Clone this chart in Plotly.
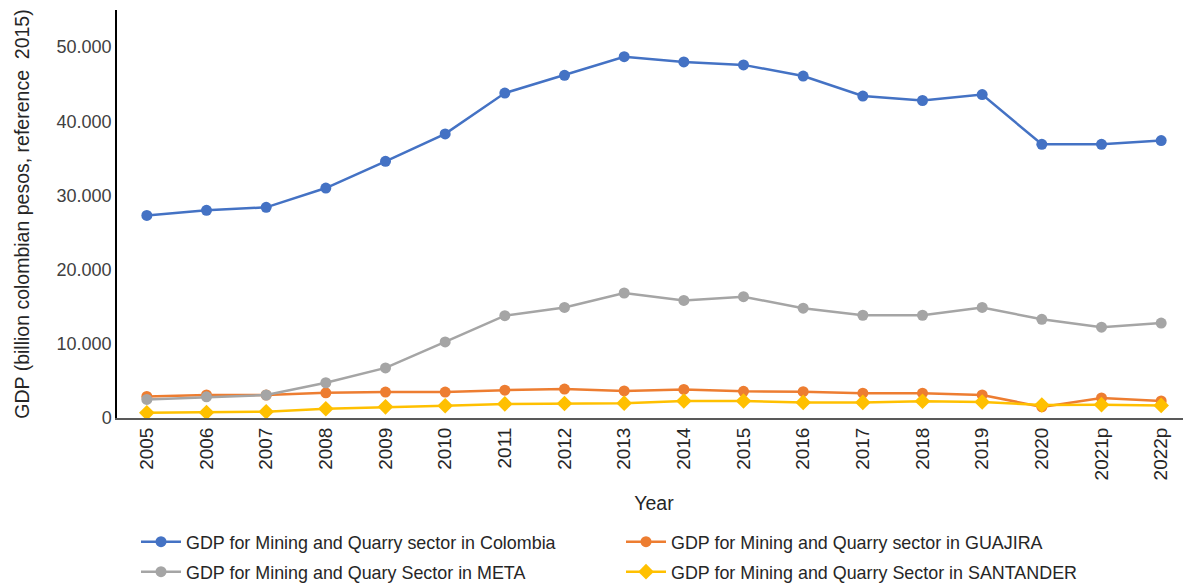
import plotly.graph_objects as go

years = ["2005", "2006", "2007", "2008", "2009", "2010", "2011", "2012", "2013",
         "2014", "2015", "2016", "2017", "2018", "2019", "2020", "2021p", "2022p"]

colombia = [27300, 28000, 28400, 31000, 34600, 38300, 43800, 46200, 48700,
            48000, 47600, 46100, 43400, 42800, 43600, 36900, 36900, 37400]
guajira = [2900, 3100, 3100, 3400, 3500, 3500, 3750, 3900, 3650,
           3850, 3600, 3550, 3350, 3350, 3100, 1500, 2700, 2300]
meta = [2500, 2850, 3100, 4750, 6750, 10250, 13800, 14900, 16850,
        15850, 16350, 14800, 13850, 13850, 14900, 13300, 12250, 12800]
santander = [700, 750, 850, 1250, 1500, 1650, 1900, 1950, 2000,
             2300, 2300, 2100, 2100, 2250, 2150, 1750, 1800, 1700]

names = ["GDP for Mining and Quarry sector in Colombia",
         "GDP for Mining and Quarry sector in GUAJIRA",
         "GDP for Mining and Quary Sector in META",
         "GDP for Mining and Quarry Sector in SANTANDER"]
colors = ["#4472C4", "#ED7D31", "#A5A5A5", "#FFC000"]
symbols = ["circle", "circle", "circle", "diamond"]
legends = ["legend", "legend", "legend2", "legend2"]
series = [colombia, guajira, meta, santander]

fig = go.Figure()
for name, vals, col, sym, lg in zip(names, series, colors, symbols, legends):
    fig.add_trace(go.Scatter(
        x=years, y=vals, name=name, mode="lines+markers",
        line=dict(color=col, width=2.5),
        marker=dict(color=col, size=11 if sym == "circle" else 12, symbol=sym),
        legend=lg,
    ))

legend_style = dict(orientation="h", x=0.1082, xref="container", yref="container",
                    xanchor="left", yanchor="middle",
                    entrywidth=430, entrywidthmode="pixels",
                    font=dict(size=17.9, color="#262626"),
                    itemwidth=40, bgcolor="rgba(0,0,0,0)")

fig.update_layout(
    width=1183, height=579,
    margin=dict(l=109, r=0, t=2, b=169),
    paper_bgcolor="white", plot_bgcolor="white",
    separators=",.",
    font=dict(family="Arial, Liberation Sans, sans-serif", size=18, color="#404040"),
    showlegend=True,
    legend=dict(y=0.0777, **legend_style),
    legend2=dict(y=0.0259, **legend_style),
    xaxis=dict(type="category", range=[-0.5, 17.5], tickangle=-90, showgrid=False,
               showline=True, linecolor="#595959", linewidth=2, ticks="",
               automargin=False,
               tickfont=dict(size=19, color="#262626"),
               title=dict(text="Year", font=dict(size=19.5, color="#262626"), standoff=17)),
    yaxis=dict(range=[0, 55000], tickvals=[0, 10000, 20000, 30000, 40000, 50000],
               tickformat=",", showgrid=False, showline=True, linecolor="#000000",
               linewidth=1.5, ticks="", zeroline=False, automargin=False,
               tickfont=dict(size=18, color="#404040"),
               title=dict(text="GDP (billion colombian pesos, reference  2015)",
                          font=dict(size=19.5, color="#262626"), standoff=22)),
)

fig.write_html("out.html")
